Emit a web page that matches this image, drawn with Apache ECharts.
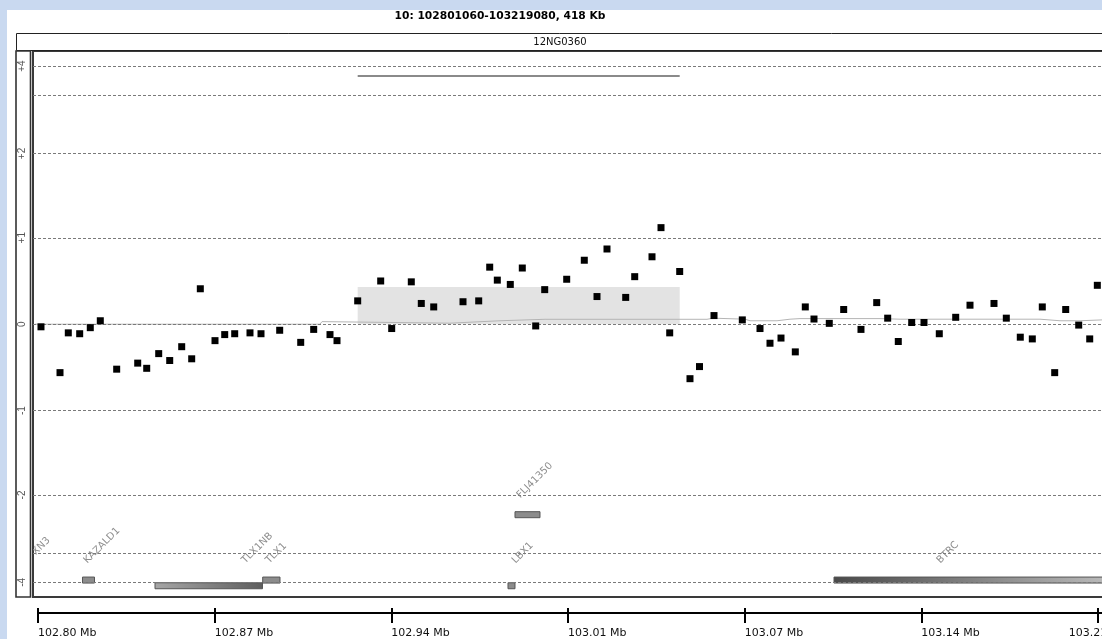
<!DOCTYPE html>
<html>
<head>
<meta charset="utf-8">
<script src="https://cdn.jsdelivr.net/npm/echarts@6/dist/echarts.min.js"></script>
<style>
html,body{margin:0;padding:0;background:#c9d9f0;}
#c{width:1102px;height:639px;}
</style>
</head>
<body>
<div id="c"></div>
<script>
// ---------------- data ----------------
const titleText = '10: 102801060-103219080, 418 Kb';
const sampleName = '12NG0360';

// probe positions (Mb) and log2 ratios
const posMb = [102.80224, 102.80974, 102.81301, 102.81750, 102.82168, 102.82563, 102.83209, 102.84038, 102.84393, 102.84866,
  102.85300, 102.85773, 102.86167, 102.86507, 102.87086, 102.87469, 102.87863, 102.88466, 102.88900, 102.89637,
  102.90466, 102.90978, 102.91621, 102.91897, 102.92713, 102.93620, 102.94054, 102.94827, 102.95221, 102.95711,
  102.96866, 102.97485, 102.97919, 102.98219, 102.98731, 102.99204, 102.99733, 103.00088, 103.00955, 103.01649,
  103.02150, 103.02544, 103.03282, 103.03637, 103.04319, 103.04674, 103.05017, 103.05411, 103.05817, 103.06192,
  103.06764, 103.07880, 103.08578, 103.08972, 103.09406, 103.09970, 103.10364, 103.10707, 103.11310, 103.11878,
  103.12560, 103.13180, 103.13613, 103.14031, 103.14560, 103.15045, 103.15648, 103.16295, 103.16859, 103.17805,
  103.18291, 103.18842, 103.19316, 103.19710, 103.20199, 103.20633, 103.21146, 103.21580, 103.21880];
const log2Ratio = [-0.03, -0.56, -0.10, -0.11, -0.04, 0.04, -0.52, -0.45, -0.51, -0.34,
  -0.42, -0.26, -0.40, 0.41, -0.19, -0.12, -0.11, -0.10, -0.11, -0.07,
  -0.21, -0.06, -0.12, -0.19, 0.27, 0.50, -0.05, 0.49, 0.24, 0.20,
  0.26, 0.27, 0.66, 0.51, 0.46, 0.65, -0.02, 0.40, 0.52, 0.74,
  0.32, 0.87, 0.31, 0.55, 0.78, 1.12, -0.10, 0.61, -0.63, -0.49,
  0.10, 0.05, -0.05, -0.22, -0.16, -0.32, 0.20, 0.06, 0.01, 0.17,
  -0.06, 0.25, 0.07, -0.20, 0.02, 0.02, -0.11, 0.08, 0.22, 0.24,
  0.07, -0.15, -0.17, 0.20, -0.56, 0.17, -0.01, -0.17, 0.45];

// moving-average trace
const trendMb  = [102.79988, 102.86771, 102.91227, 102.91306, 102.96353, 102.98325, 103.00102, 103.06488, 103.06725, 103.07987,
  103.08184, 103.09249, 103.09762, 103.10156, 103.13311, 103.14100, 103.19620, 103.20409, 103.21198, 103.22065];
const trendVal = [0, 0, 0, 0.03, 0.012, 0.04, 0.057, 0.057, 0.07, 0.058,
  0.04, 0.04, 0.058, 0.065, 0.065, 0.058, 0.058, 0.04, 0.04, 0.05];

// aberration call
const aberrationStart = 102.92713;
const aberrationEnd = 103.05411;
const aberrationMean = 0.43;

// genes
const geneNames   = ['SFXN3', 'KAZALD1', 'TLX1NB', 'TLX1', 'LBX1', 'FLJ41350', 'BTRC'];
const geneStart   = [102.7800, 102.81861, 102.84720, 102.88967, 102.98640, 102.98916, 103.11496];
const geneEnd     = [102.7966, 102.82334, 102.88959, 102.89649, 102.98916, 102.99902, 103.31700];
const geneTrack   = [0, 0, 0, 0, 0, 1, 0];
const geneSubRow  = [0, 0, 1, 0, 1, 0, 0];
const geneLabelMb = [102.79751, 102.82117, 102.88348, 102.89294, 102.99001, 102.99192, 103.15755];
const geneStrand  = [0, 0, 1, 0, 0, 0, -1];

// y ticks (log2 ratio) and labels
const yTickValues = [4, 3, 2, 1, 0, -1, -2, -3, -4];
const yTickLabels = ['+4', '', '+2', '+1', '0', '-1', '-2', '', '-4'];

// ruler
const rulerTicks  = [102.80106, 102.87073, 102.94040, 103.01007, 103.07974, 103.14941, 103.21908];
const rulerLabels = ['102.80 Mb', '102.87 Mb', '102.94 Mb', '103.01 Mb', '103.07 Mb', '103.14 Mb', '103.21 Mb'];

// ---------------- compressed display scale ----------------
const scaleIn  = [0, 1, 2, 3, 4];
const scaleOut = [0, 1, 1.975, 2.65, 2.985];
function g(v) {
  const s = v < 0 ? -1 : 1, a = Math.abs(v);
  for (let i = 1; i < scaleIn.length; i++) {
    if (a <= scaleIn[i] || i === scaleIn.length - 1) {
      const t = (a - scaleIn[i - 1]) / (scaleIn[i] - scaleIn[i - 1]);
      return s * (scaleOut[i - 1] + t * (scaleOut[i] - scaleOut[i - 1]));
    }
  }
}
const trackLevel = [-2.959, -2.203];   // display level of gene tracks
const markerLevel = 2.87;              // display level of aberration bar

const chart = echarts.init(document.getElementById('c'), null, {renderer: 'canvas'});

const option = {
  backgroundColor: '#c9d9f0',
  animation: false,
  title: [
    {text: titleText, left: 500, top: 11, textAlign: 'center', padding: 0,
     textStyle: {fontFamily: 'DejaVu Sans', fontWeight: 'bold', fontSize: 10.7, color: '#000'}},
    {text: sampleName, left: 560, top: 37, textAlign: 'center', padding: 0,
     textStyle: {fontFamily: 'DejaVu Sans', fontWeight: 'normal', fontSize: 10, color: '#111'}}
  ],
  graphic: [
    {type: 'rect', z: -5, shape: {x: 7, y: 10, width: 1110, height: 640}, style: {fill: '#ffffff'}},
    {type: 'rect', z: 10, shape: {x: 16.5, y: 33.5, width: 1110, height: 17}, style: {fill: 'none', stroke: '#222', lineWidth: 1}},
    {type: 'rect', z: 10, shape: {x: 16, y: 51, width: 14.5, height: 546}, style: {fill: 'none', stroke: '#333', lineWidth: 1.6}}
  ],
  grid: [
    {left: 33, top: 51, width: 1075, height: 546, show: true, borderColor: '#3a3a3a', borderWidth: 2,
     backgroundColor: 'transparent', outerBoundsMode: 'none', containLabel: false},
    {left: 38, top: 603, width: 1070, height: 10, outerBoundsMode: 'none', containLabel: false}
  ],
  xAxis: [
    {gridIndex: 0, type: 'value', min: 102.79909, max: 103.22301, show: false},
    {gridIndex: 1, type: 'value', min: 102.80106, max: 103.22301, position: 'bottom',
     axisLine: {show: true, lineStyle: {color: '#000', width: 2}},
     axisTick: {show: true, customValues: rulerTicks, length: 10, lineStyle: {color: '#000', width: 2}},
     axisLabel: {show: true, customValues: rulerTicks, margin: 15, align: 'left', alignMaxLabel: 'center',
       fontFamily: 'DejaVu Sans', fontSize: 11, color: '#111',
       formatter: function (v) { const i = rulerTicks.findIndex(t => Math.abs(t - v) < 1e-6); return i >= 0 ? rulerLabels[i] : ''; }},
     splitLine: {show: false}},
    {gridIndex: 1, type: 'value', min: 102.80106, max: 103.22301, position: 'bottom',
     axisLine: {show: false},
     axisTick: {show: true, inside: true, customValues: rulerTicks, length: 5, lineStyle: {color: '#000', width: 2}},
     axisLabel: {show: false}, splitLine: {show: false}}
  ],
  yAxis: [
    {gridIndex: 0, type: 'value', min: -3.155, max: 3.16,
     axisLine: {show: false}, axisTick: {show: false}, splitLine: {show: false},
     axisLabel: {show: true, customValues: yTickValues.map(g), rotate: 90, margin: 11, align: 'center', verticalAlign: 'middle',
       fontFamily: 'Liberation Sans', fontSize: 10, color: '#555',
       formatter: function (v) { const i = yTickValues.findIndex(t => Math.abs(g(t) - v) < 1e-6); return i >= 0 ? yTickLabels[i] : ''; }}},
    {gridIndex: 1, type: 'value', min: 0, max: 1, show: false}
  ],
  series: [
    {
      type: 'line', xAxisIndex: 0, yAxisIndex: 0, z: 1, data: [], silent: true,
      markArea: {silent: true, itemStyle: {color: '#e3e3e3', opacity: 1},
        data: [[{xAxis: aberrationStart, yAxis: 0}, {xAxis: aberrationEnd, yAxis: g(aberrationMean)}]]}
    },
    {
      type: 'line', xAxisIndex: 0, yAxisIndex: 0, z: 2, data: [], silent: true,
      markLine: {silent: true, symbol: ['none', 'none'], label: {show: false},
        lineStyle: {color: '#7a7a7a', width: 1, type: [3, 2]},
        data: yTickValues.map(v => ({yAxis: g(v)}))}
    },
    {
      type: 'line', xAxisIndex: 0, yAxisIndex: 0, z: 3, silent: true, symbol: 'none',
      lineStyle: {color: '#b4b4b4', width: 1},
      data: trendMb.map((x, i) => [x, g(trendVal[i])])
    },
    {
      type: 'line', xAxisIndex: 0, yAxisIndex: 0, z: 3, silent: true, symbol: 'none',
      lineStyle: {color: '#8a8a8a', width: 2},
      data: [[aberrationStart, markerLevel], [aberrationEnd, markerLevel]]
    },
    {
      type: 'custom', xAxisIndex: 0, yAxisIndex: 0, z: 3, clip: true, silent: true,
      encode: {x: [0, 1], y: 2},
      data: geneNames.map((n, i) => [geneStart[i], geneEnd[i], geneTrack[i], geneSubRow[i], geneLabelMb[i], geneStrand[i]]),
      renderItem: function (params, api) {
        const i = params.dataIndex;
        const level = trackLevel[api.value(2)];
        const p0 = api.coord([api.value(0), level]);
        const p1 = api.coord([api.value(1), level]);
        const yc = p0[1] + api.value(3) * 5.7;
        const lp = api.coord([api.value(4), level]);
        const strand = api.value(5);
        const visEnd = Math.min(p1[0], params.coordSys.x + params.coordSys.width - 6);
        let fill = '#8c8c8c';
        if (strand > 0) fill = new echarts.graphic.LinearGradient(p0[0], 0, visEnd, 0, [{offset: 0, color: '#a6a6a6'}, {offset: 1, color: '#5e5e5e'}], true);
        if (strand < 0) fill = new echarts.graphic.LinearGradient(p0[0], 0, visEnd, 0, [{offset: 0, color: '#4a4a4a'}, {offset: 1, color: '#b8b8b8'}], true);
        return {
          type: 'group',
          children: [
            {type: 'rect', shape: {x: p0[0], y: yc - 3, width: Math.max(p1[0] - p0[0], 1), height: 6},
             style: {fill: fill, stroke: '#555', lineWidth: 1}},
            {type: 'text', x: lp[0], y: lp[1] - 14.5, rotation: Math.PI / 4,
             style: {text: geneNames[i], fill: '#8e8e8e', fontSize: 10, fontFamily: 'DejaVu Sans', align: 'left', verticalAlign: 'bottom'}}
          ]
        };
      }
    },
    {
      type: 'scatter', xAxisIndex: 0, yAxisIndex: 0, z: 5, silent: true,
      symbol: 'rect', symbolSize: 7, itemStyle: {color: '#000', opacity: 1},
      data: posMb.map((x, i) => [x, g(log2Ratio[i])])
    }
  ]
};
chart.setOption(option);
</script>
</body>
</html>
